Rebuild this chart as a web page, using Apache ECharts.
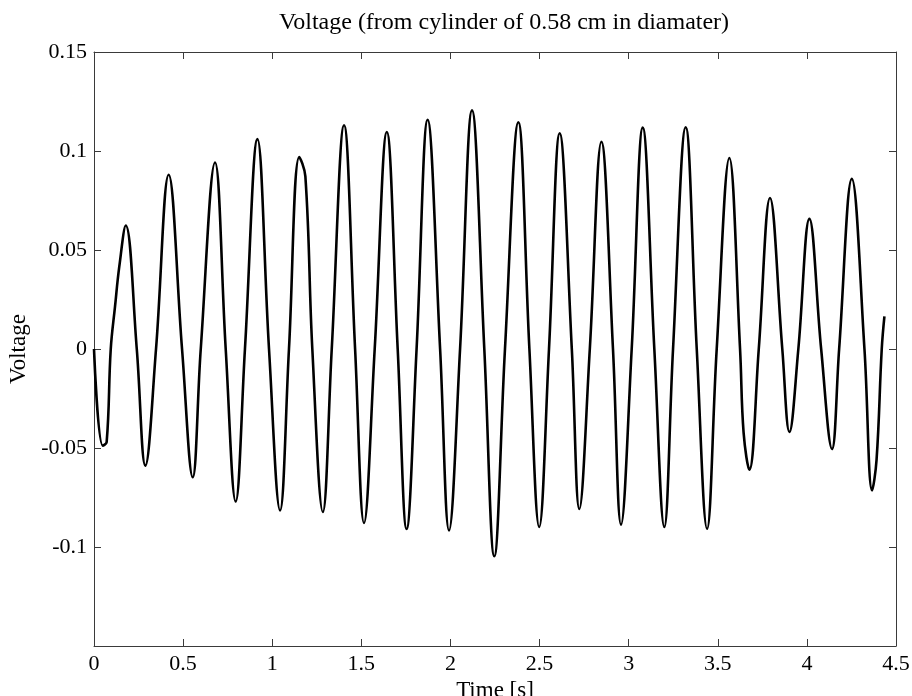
<!DOCTYPE html>
<html>
<head>
<meta charset="utf-8">
<script src="https://cdn.jsdelivr.net/npm/echarts@6/dist/echarts.min.js"></script>
<style>
html,body{margin:0;padding:0;background:#fff;}
#chart{width:912px;height:696px;}
</style>
</head>
<body>
<div id="chart"></div>
<script>
// Time values [s] (peaks, troughs, zero crossings, shoulders)
var times = [
  0.000, 0.049, 0.071, 0.094, 0.118, 0.142, 0.178, 0.240, 0.288, 0.348,
  0.419, 0.494, 0.554, 0.599, 0.679, 0.739, 0.795, 0.847, 0.917, 0.982,
  1.044, 1.094, 1.152, 1.186, 1.225, 1.284, 1.334, 1.403, 1.465, 1.515,
  1.575, 1.643, 1.704, 1.754, 1.810, 1.872, 1.942, 1.992, 2.054, 2.121,
  2.190, 2.246, 2.306, 2.381, 2.443, 2.498, 2.553, 2.613, 2.681, 2.723,
  2.782, 2.847, 2.912, 2.957, 3.017, 3.079, 3.144, 3.200, 3.249, 3.320,
  3.382, 3.440, 3.494, 3.565, 3.625, 3.645, 3.677, 3.730, 3.793, 3.862,
  3.902, 3.952, 4.014, 4.080, 4.141, 4.181, 4.252, 4.323, 4.366, 4.391,
  4.420, 4.435
];
// Voltage values
var voltages = [
  0.000, -0.0488, -0.047, 0.000, 0.0215, 0.0417, 0.0624, 0.000, -0.0589, 0.000,
  0.088, 0.000, -0.0648, 0.000, 0.0942, 0.000, -0.077, 0.000, 0.106, 0.000,
  -0.0815, 0.000, 0.097, 0.0872, 0.000, -0.0823, 0.000, 0.113, 0.000, -0.0879,
  0.000, 0.1096, 0.000, -0.0909, 0.000, 0.1158, 0.000, -0.0916, 0.000, 0.1205,
  0.000, -0.1047, 0.000, 0.1145, 0.000, -0.0899, 0.000, 0.109, 0.000, -0.0808,
  0.000, 0.1047, 0.000, -0.0887, 0.000, 0.1118, 0.000, -0.0899, 0.000, 0.112,
  0.000, -0.0908, 0.000, 0.0965, 0.000, -0.0424, -0.061, 0.000, 0.0763, 0.000,
  -0.0419, 0.000, 0.0657, 0.000, -0.0505, 0.000, 0.0859, 0.000, -0.0714, -0.0559,
  0.000, 0.0165
];
var xTicks = [0, 0.5, 1, 1.5, 2, 2.5, 3, 3.5, 4, 4.5];
var yTicks = [-0.15, -0.1, -0.05, 0, 0.05, 0.1, 0.15];
var titleText = 'Voltage (from cylinder of 0.58 cm in diamater)';
var xName = 'Time [s]';
var yName = 'Voltage';

var data = times.map(function (t, i) { return [t, voltages[i]]; });

var FONT = 'Liberation Serif';
var axisCol = '#3a3a3a';
var xMin = xTicks[0], xMax = xTicks[xTicks.length - 1], xInt = xTicks[1] - xTicks[0];
var yMin = yTicks[0], yMax = yTicks[yTicks.length - 1], yInt = 0.05;

function fmtY(v) {
  if (v < -0.149) return '';
  return String(+v.toFixed(2));
}
function fmtX(v) { return String(+v.toFixed(2)); }

var chart = echarts.init(document.getElementById('chart'), null, {renderer: 'canvas'});
chart.setOption({
  animation: false,
  backgroundColor: '#fff',
  title: {
    text: titleText,
    left: 274,
    top: 6,
    textStyle: {fontFamily: FONT, fontSize: 24, fontWeight: 'normal', color: '#000'}
  },
  grid: {left: 94, right: 16, top: 52, bottom: 50, containLabel: false, outerBoundsMode: 'none'},
  xAxis: [{
    type: 'value', min: xMin, max: xMax, interval: xInt, position: 'bottom',
    name: xName, nameLocation: 'middle', nameGap: 32,
    nameTextStyle: {fontFamily: FONT, fontSize: 23, color: '#000'},
    axisLine: {show: true, onZero: false, lineStyle: {color: axisCol, width: 1}},
    axisTick: {show: true, inside: true, length: 7, lineStyle: {color: axisCol}},
    axisLabel: {fontFamily: FONT, fontSize: 22, color: '#000', margin: 7, formatter: fmtX},
    splitLine: {show: false}
  }, {
    type: 'value', min: xMin, max: xMax, interval: xInt, position: 'top',
    axisLine: {show: true, onZero: false, lineStyle: {color: axisCol, width: 1}},
    axisTick: {show: true, inside: true, length: 7, lineStyle: {color: axisCol}},
    axisLabel: {show: false},
    splitLine: {show: false}
  }],
  yAxis: [{
    type: 'value', min: yMin, max: yMax, interval: yInt, position: 'left',
    name: yName, nameLocation: 'middle', nameGap: 64, nameRotate: 90,
    nameTextStyle: {fontFamily: FONT, fontSize: 23, color: '#000'},
    axisLine: {show: true, onZero: false, lineStyle: {color: axisCol, width: 1}},
    axisTick: {show: true, inside: true, length: 7, lineStyle: {color: axisCol}},
    axisLabel: {fontFamily: FONT, fontSize: 22, color: '#000', margin: 7, formatter: fmtY},
    splitLine: {show: false}
  }, {
    type: 'value', min: yMin, max: yMax, interval: yInt, position: 'right',
    axisLine: {show: true, onZero: false, lineStyle: {color: axisCol, width: 1}},
    axisTick: {show: true, inside: true, length: 7, lineStyle: {color: axisCol}},
    axisLabel: {show: false},
    splitLine: {show: false}
  }],
  series: [{
    type: 'line',
    xAxisIndex: 0, yAxisIndex: 0,
    data: data,
    smooth: 0.4,
    showSymbol: false,
    symbol: 'none',
    lineStyle: {color: '#000', width: 2.6},
    z: 5
  }]
});
</script>
</body>
</html>
